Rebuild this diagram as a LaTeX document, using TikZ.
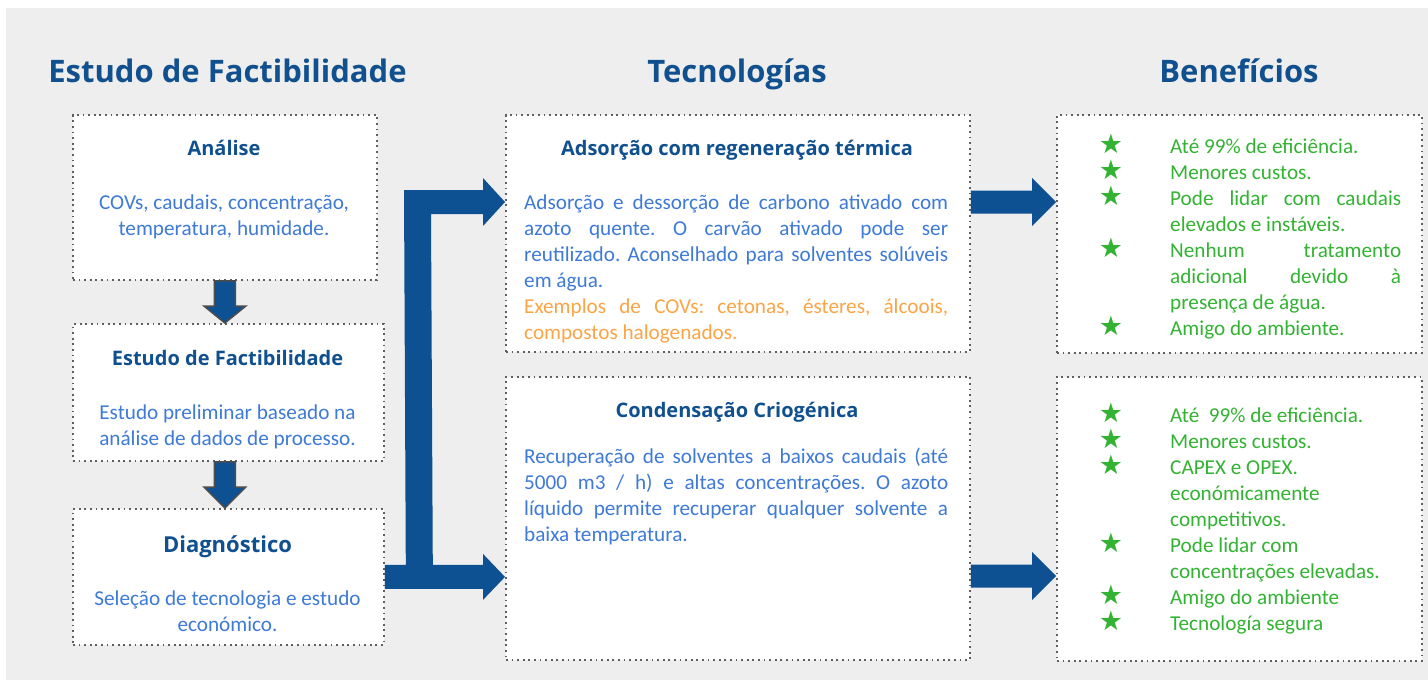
\documentclass[tikz,border=0pt]{standalone}
\usepackage{fontspec}
\setmainfont{Carlito}
\newfontfamily\osans{Open Sans}
\newfontfamily\djv{DejaVu Sans}
\usetikzlibrary{calc}
\frenchspacing
\definecolor{bg}{RGB}{238,238,238}
\definecolor{titleblue}{RGB}{17,80,143}
\definecolor{arrowblue}{RGB}{14,81,146}
\definecolor{bodyblue}{RGB}{62,122,214}
\definecolor{orangetxt}{RGB}{250,165,70}
\definecolor{greentxt}{RGB}{51,178,51}
\definecolor{dotgray}{RGB}{95,95,95}
\newcommand{\jl}[1]{\makebox[424pt][s]{#1}}
\newcommand{\jr}[1]{\makebox[231pt][s]{#1}}
\tikzset{
  box/.style={draw=dotgray, fill=white, line width=1.8pt, dash pattern=on 1.8pt off 3.8pt, inner sep=0pt, anchor=north west},
  head/.style={inner sep=0pt, anchor=base, text=titleblue, font=\osans\bfseries\fontsize{31}{36}\selectfont},
  btitle/.style={inner sep=0pt, anchor=base, text=titleblue, font=\osans\bfseries\fontsize{20}{24}\selectfont},
  btitlebig/.style={inner sep=0pt, anchor=base, text=titleblue, font=\osans\bfseries\fontsize{22}{26}\selectfont},
  body/.style={inner sep=0pt, anchor=base, text=bodyblue, font=\fontsize{21.2}{26}\selectfont},
  bodyl/.style={body, anchor=base west},
  orl/.style={bodyl, text=orangetxt},
  grl/.style={bodyl, text=greentxt},
  star/.style={inner sep=0pt, anchor=base, text=greentxt, font=\djv\fontsize{27}{30}\selectfont},
  blockarrow/.style={fill=arrowblue},
  downarrow/.style={fill=arrowblue, draw=black!70, line width=1.5pt, line join=miter},
}
\begin{document}
\begin{tikzpicture}[x=1pt,y=-1pt]
\useasboundingbox (0,0) rectangle (1428,681);
\fill[white] (0,0) rectangle (1428,681);
\fill[bg] (6,8) rectangle (1428,680);

% headings
\node[head] (h1) at (227.5,82) {Estudo de Factibilidade};
\node[head] (h2) at (737,82) {Tecnologías};
\node[head] (h3) at (1239,82) {Benefícios};

% boxes
\node[box, minimum width=304pt, minimum height=165pt] (an) at (72,114) {};
\node[box, minimum width=311pt, minimum height=137pt] (ef) at (72,323) {};
\node[box, minimum width=311pt, minimum height=136pt] (di) at (72,508) {};
\node[box, minimum width=464pt, minimum height=237pt] (ad) at (505,114) {};
\node[box, minimum width=464pt, minimum height=283pt] (cr) at (505,376) {};
\node[box, minimum width=365pt, minimum height=238pt] (rb1) at (1056,114) {};
\node[box, minimum width=365pt, minimum height=284pt] (rb2) at (1056,376) {};

% down arrows
\coordinate (d1t) at (an.south |- ef.north);
\coordinate (d2s) at (an.south |- ef.south);
\coordinate (d2t) at (an.south |- di.north);
\draw[downarrow] ($(an.south)+(-10.5,0)$) -- ($(d1t)+(-10.5,-17)$) -- ($(d1t)+(-21,-17)$) -- (d1t) -- ($(d1t)+(21,-17)$) -- ($(d1t)+(10.5,-17)$) -- ($(an.south)+(10.5,0)$) -- cycle;
\draw[downarrow] ($(d2s)+(-10.5,0)$) -- ($(d2t)+(-10.5,-21)$) -- ($(d2t)+(-21,-21)$) -- (d2t) -- ($(d2t)+(21,-21)$) -- ($(d2t)+(10.5,-21)$) -- ($(d2s)+(10.5,0)$) -- cycle;

% bracket arrow
\coordinate (bs) at (di.east);
\coordinate (tt) at ($(ad.north west)+(0,88)$);
\coordinate (bt) at (cr.west |- di.east);
\fill[blockarrow] ($(bs)+(0,-12)$) -- ($(bs)+(21,-12)$) -- ($(tt)+(-101,-12)$) -- ($(tt)+(-22,-12)$) -- ($(tt)+(-22,-24)$) -- (tt) -- ($(tt)+(-22,24)$) -- ($(tt)+(-22,12)$) -- ($(tt)+(-74,12)$) -- ($(bs)+(48,-12)$) -- ($(bt)+(-22,-12)$) -- ($(bt)+(-22,-23)$) -- (bt) -- ($(bt)+(-22,23)$) -- ($(bt)+(-22,12)$) -- ($(bs)+(0,12)$) -- cycle;

% right arrows
\coordinate (r1s) at ($(ad.north east)+(0,88)$);
\coordinate (r1e) at ($(rb1.north west)+(0,88)$);
\coordinate (r2s) at ($(cr.north east)+(0,200)$);
\coordinate (r2e) at ($(rb2.north west)+(0,200)$);
\fill[blockarrow] ($(r1s)+(0,-11.5)$) -- ($(r1e)+(-24,-11.5)$) -- ($(r1e)+(-24,-24)$) -- (r1e) -- ($(r1e)+(-24,24)$) -- ($(r1e)+(-24,11.5)$) -- ($(r1s)+(0,11.5)$) -- cycle;
\fill[blockarrow] ($(r2s)+(0,-11.5)$) -- ($(r2e)+(-24,-11.5)$) -- ($(r2e)+(-24,-24)$) -- (r2e) -- ($(r2e)+(-24,24)$) -- ($(r2e)+(-24,11.5)$) -- ($(r2s)+(0,11.5)$) -- cycle;

% left box texts
\node[btitle] (ant) at (224,155) {Análise};
\node[body] (an1) at (224,209) {COVs, caudais, concentração,};
\node[body] (an2) at (224,235) {temperatura, humidade.};
\node[btitle] (eft) at (227.5,365) {Estudo de Factibilidade};
\node[body] (ef1) at (227.5,419) {Estudo preliminar baseado na};
\node[body] (ef2) at (227.5,445) {análise de dados de processo.};
\node[btitlebig] (dit) at (227.5,552) {Diagnóstico};
\node[body] (di1) at (227.5,605) {Seleção de tecnologia e estudo};
\node[body] (di2) at (227.5,631) {económico.};

% middle texts
\node[btitle] (adt) at (737,155) {Adsorção com regeneração térmica};
\node[bodyl] (ad1) at (524,209) {\jl{Adsorção e dessorção de carbono ativado com}};
\node[bodyl] (ad2) at (524,235) {\jl{azoto quente. O carvão ativado pode ser}};
\node[bodyl] (ad3) at (524,261) {\jl{reutilizado. Aconselhado para solventes solúveis}};
\node[bodyl] (ad4) at (524,287) {em água.};
\node[orl] (ad5) at (524,313) {\jl{Exemplos de COVs: cetonas, ésteres, álcoois,}};
\node[orl] (ad6) at (524,339) {compostos halogenados.};

\node[btitle] (crt) at (737,417) {Condensação Criogénica};
\node[bodyl] (cr1) at (524,463) {\jl{Recuperação de solventes a baixos caudais (até}};
\node[bodyl] (cr2) at (524,489) {\jl{5000 m3 / h) e altas concentrações. O azoto}};
\node[bodyl] (cr3) at (524,515) {\jl{líquido permite recuperar qualquer solvente a}};
\node[bodyl] (cr4) at (524,541) {baixa temperatura.};

% right top
\node[star] (s11) at (1111,153) {★};
\node[grl] (b11) at (1170,153) {Até 99\% de eficiência.};
\node[star] (s12) at (1111,179) {★};
\node[grl] (b12) at (1170,179) {Menores custos.};
\node[star] (s13) at (1111,205) {★};
\node[grl] (b13) at (1170,205) {\jr{Pode lidar com caudais}};
\node[grl] (b14) at (1170,231) {elevados e instáveis.};
\node[star] (s15) at (1111,257) {★};
\node[grl] (b15) at (1170,257) {\jr{Nenhum tratamento}};
\node[grl] (b16) at (1170,283) {\jr{adicional devido à}};
\node[grl] (b17) at (1170,309) {presença de água.};
\node[star] (s18) at (1111,335) {★};
\node[grl] (b18) at (1170,335) {Amigo do ambiente.};

% right bottom
\node[star] (s21) at (1111,422) {★};
\node[grl] (b21) at (1170,422) {Até\ \ 99\% de eficiência.};
\node[star] (s22) at (1111,448) {★};
\node[grl] (b22) at (1170,448) {Menores custos.};
\node[star] (s23) at (1111,474) {★};
\node[grl] (b23) at (1170,474) {CAPEX e OPEX.};
\node[grl] (b24) at (1170,500) {económicamente};
\node[grl] (b25) at (1170,526) {competitivos.};
\node[star] (s26) at (1111,552) {★};
\node[grl] (b26) at (1170,552) {Pode lidar com};
\node[grl] (b27) at (1170,578) {concentrações elevadas.};
\node[star] (s28) at (1111,604) {★};
\node[grl] (b28) at (1170,604) {Amigo do ambiente};
\node[star] (s29) at (1111,630) {★};
\node[grl] (b29) at (1170,630) {Tecnología segura};
\end{tikzpicture}
\end{document}
